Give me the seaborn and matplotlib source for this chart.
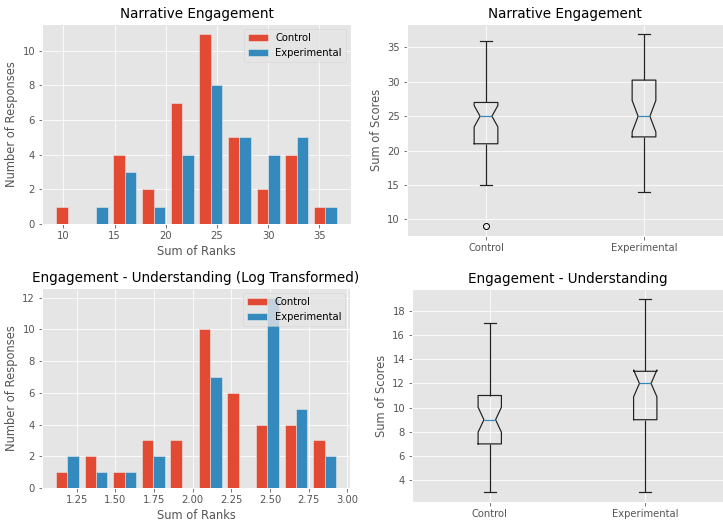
import numpy as np
import pandas as pd
import matplotlib
matplotlib.use("Agg")
import matplotlib.pyplot as plt
import seaborn as sns

plt.style.use("ggplot")
plt.rcParams["axes.titlesize"] = 13.5
plt.rcParams["axes.labelsize"] = 11.5

groups = ["Control", "Experimental"]
colors = ["#E24A33", "#348ABD"]
median_color = "#348ABD"

# Narrative engagement: summed scores per respondent
narrative_control = [9, 15, 16, 16, 17, 18, 20, 21, 21, 21, 22, 22, 22, 22,
                     24, 24, 24, 24, 25, 25, 25, 25, 25, 25, 25,
                     26, 27, 27, 28, 28, 30, 31, 32, 33, 33, 34, 36]
narrative_experimental = [14, 15, 16, 17, 19, 21, 21, 22, 22,
                          24, 24, 24, 25, 25, 25, 25, 25,
                          26, 27, 27, 28, 28, 29, 30, 31, 31,
                          32, 33, 33, 34, 34, 37]

# Engagement minus understanding: summed scores per respondent
understanding_control = [3, 4, 4, 5, 6, 6, 6, 7, 7, 7, 8, 8, 8, 8, 8,
                         9, 9, 9, 9, 9, 10, 10, 10, 10, 10, 10,
                         11, 11, 12, 13, 14, 14, 15, 15, 16, 17, 17]
understanding_experimental = [3, 3, 4, 5, 6, 6, 8, 9, 9, 9, 9, 9, 9,
                              11, 11, 12, 12, 12, 12, 12, 13, 13, 13, 13, 13,
                              14, 14, 14, 15, 15, 17, 19]


def make_frame(control, experimental):
    return pd.DataFrame({
        "group": ["Control"] * len(control) + ["Experimental"] * len(experimental),
        "score": list(control) + list(experimental),
    })


narrative = make_frame(narrative_control, narrative_experimental)
understanding = make_frame(understanding_control, understanding_experimental)
understanding["log_score"] = np.log(understanding["score"])

W, H = 723, 525
fig = plt.figure(figsize=(W / 72, H / 72), dpi=72)


def axes_px(left, top, right, bottom):
    return fig.add_axes([left / W, 1 - bottom / H, (right - left) / W, (bottom - top) / H])


ax_hist1 = axes_px(42, 24, 351, 224)
ax_box1 = axes_px(407, 24, 723, 236)
ax_hist2 = axes_px(42, 288, 350, 488)
ax_box2 = axes_px(412, 289, 723, 502)


def draw_hist(ax, df, col, title):
    sns.histplot(data=df, x=col, hue="group", hue_order=groups, palette=colors,
                 bins=10, multiple="dodge", shrink=0.8, alpha=1,
                 edgecolor="#EEEEEE", linewidth=0.5, ax=ax)
    sns.move_legend(ax, "upper right", title=None)
    ax.set_title(title)
    ax.set_xlabel("Sum of Ranks")
    ax.set_ylabel("Number of Responses")


def draw_box(ax, df, title):
    sns.boxplot(data=df, x="group", y="score", order=groups, color="#222222",
                fill=False, width=0.15, notch=True, linewidth=1.2, fliersize=6,
                medianprops=dict(color=median_color),
                flierprops=dict(marker="o", markerfacecolor="none",
                                markeredgecolor="black"),
                ax=ax)
    ax.xaxis.grid(True)
    ax.set_title(title)
    ax.set_xlabel("")
    ax.set_ylabel("Sum of Scores")


draw_hist(ax_hist1, narrative, "score", "Narrative Engagement")
draw_box(ax_box1, narrative, "Narrative Engagement")
draw_hist(ax_hist2, understanding, "log_score",
          "Engagement - Understanding (Log Transformed)")
draw_box(ax_box2, understanding, "Engagement - Understanding")

fig.savefig("out.png", dpi=72)
